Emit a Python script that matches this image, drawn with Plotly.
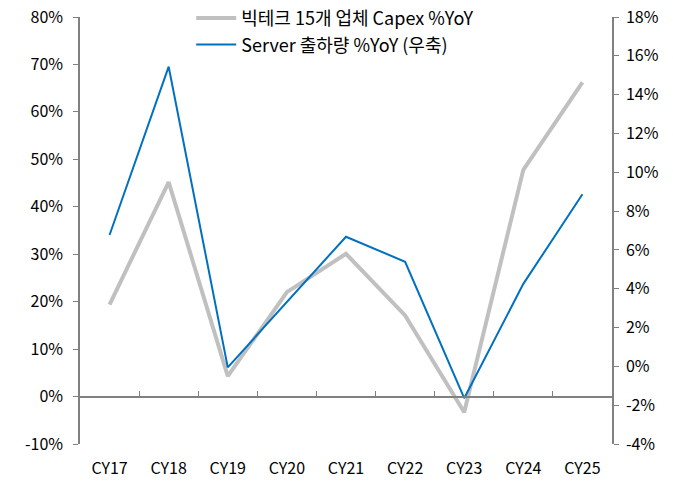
import plotly.graph_objects as go

categories = ["CY17", "CY18", "CY19", "CY20", "CY21", "CY22", "CY23", "CY24", "CY25"]
capex_yoy = [19.4, 45.2, 4.3, 22.0, 30.1, 17.1, -3.3, 47.8, 66.2]
server_yoy = [6.77, 15.44, -0.05, 3.32, 6.68, 5.39, -1.64, 4.25, 8.87]
left_ticks = list(range(-10, 81, 10))
right_ticks = list(range(-4, 19, 2))

FONT = "Noto Sans CJK KR"
AX = "#808080"

fig = go.Figure()
fig.add_trace(go.Scatter(x=categories, y=capex_yoy, mode="lines",
                         name="빅테크 15개 업체 Capex %YoY",
                         line=dict(color="#c0c0c0", width=4),
                         xaxis="x", yaxis="y"))
fig.add_trace(go.Scatter(x=categories, y=server_yoy, mode="lines",
                         name="Server 출하량 %YoY (우축)",
                         line=dict(color="#0070c0", width=2),
                         xaxis="x", yaxis="y2"))

fig.update_layout(
    width=673, height=481,
    margin=dict(l=80, r=61, t=17, b=37, autoexpand=False),
    paper_bgcolor="white", plot_bgcolor="white",
    font=dict(family=FONT, size=16, color="#000000"),
    showlegend=True,
    legend=dict(x=0.209, y=1.04, xanchor="left", yanchor="top",
                bgcolor="rgba(0,0,0,0)", font=dict(size=18, family=FONT),
                tracegroupgap=0, itemwidth=40),
    xaxis=dict(type="category", categoryorder="array", categoryarray=categories,
               range=[-0.5, 8.5], showline=False, ticks="", showgrid=False,
               zeroline=False, tickfont=dict(size=16), ticklabelstandoff=13),
    xaxis2=dict(type="category", categoryorder="array", categoryarray=categories,
                matches="x", overlaying="x", anchor="free", position=10/90,
                showline=True, linecolor=AX, linewidth=1.5,
                ticks="inside", tickson="boundaries", ticklen=5, tickcolor=AX,
                showticklabels=False, showgrid=False, zeroline=False),
    yaxis=dict(range=[-10, 80], tickvals=left_ticks,
               ticktext=[f"{v}%" for v in left_ticks],
               showline=True, linecolor=AX, linewidth=1.5,
               ticks="outside", ticklen=5, tickcolor=AX, ticklabelstandoff=7,
               showgrid=False, zeroline=False, tickfont=dict(size=16)),
    yaxis2=dict(range=[-4, 18], tickvals=right_ticks,
                ticktext=[f"{v}%" for v in right_ticks],
                overlaying="y", side="right", anchor="x",
                showline=True, linecolor=AX, linewidth=1.5,
                ticks="outside", ticklen=5, tickcolor=AX, ticklabelstandoff=4,
                showgrid=False, zeroline=False, tickfont=dict(size=16)),
)
# empty trace that activates the zero-line category axis
fig.add_trace(go.Scatter(x=categories, y=[None]*len(categories), xaxis="x2", yaxis="y",
                         showlegend=False, hoverinfo="skip"))

fig.write_html("out.html", config={"displayModeBar": False},
               post_script="document.body.style.margin='0px';document.body.style.padding='0px';")
